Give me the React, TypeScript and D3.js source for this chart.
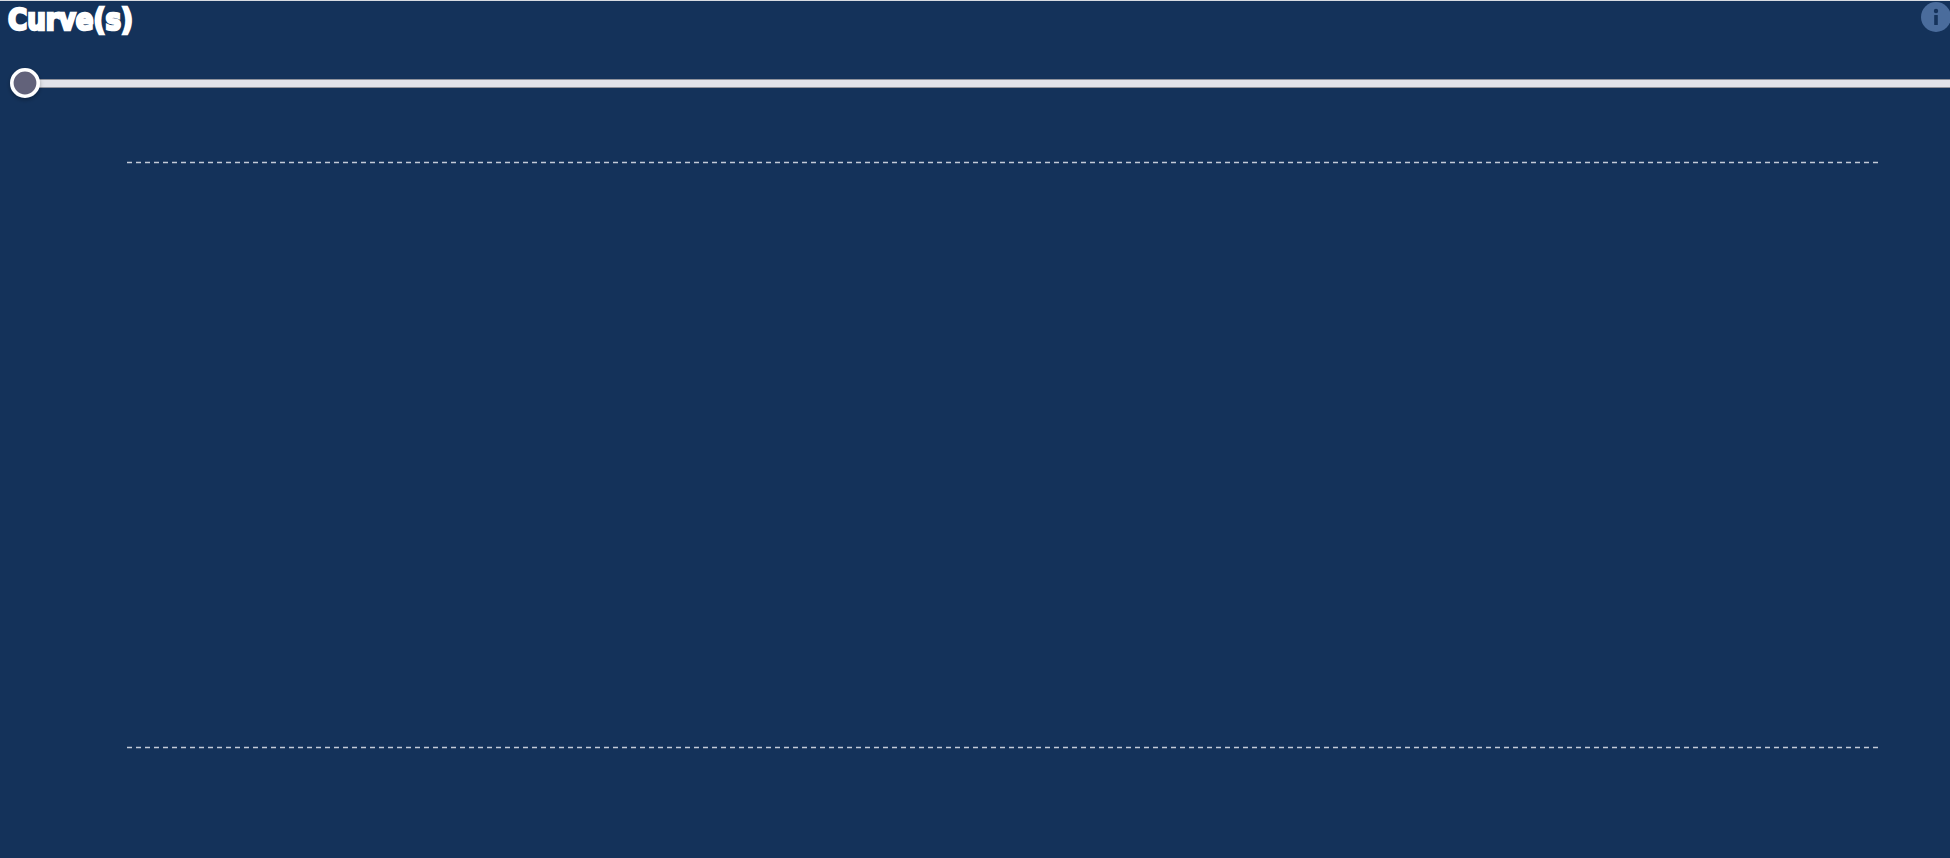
import * as d3 from 'd3';

const title = 'Curve(s)';
const sliderDomain = [0, 100];
const sliderValue = 0;
const yDomain = [0, 1];
const refLines = [0, 1];

const width = 1950;
const height = 858;

export default function App() {
  const margin = { top: 162.5, right: 72, bottom: 110.5, left: 127 };
  const xScale = d3.scaleLinear().domain(yDomain).range([margin.left, width - margin.right]);
  const yScale = d3.scaleLinear().domain(yDomain).range([height - margin.bottom, margin.top]);
  const sliderScale = d3.scaleLinear().domain(sliderDomain).range([25, 1950]);
  const knobX = sliderScale(sliderValue);

  return (
    <svg
      width={width}
      height={height}
      style={{ position: 'absolute', left: 0, top: 0, display: 'block' }}
    >
      <defs>
        <filter id="knob-shadow" x="-50%" y="-50%" width="200%" height="200%">
          <feDropShadow dx={0} dy={2} stdDeviation={2} floodColor="#000" floodOpacity={0.3} />
        </filter>
      </defs>
      <rect width={width} height={height} fill="#14325a" />
      <rect width={width} height={1} fill="#d8dce2" />

      {/* Impact is not installed, so squeeze a bold condensed face instead */}
      <text
        transform="translate(8,29.5) scale(0.97,1.03)"
        fontFamily="'DejaVu Sans Condensed', 'DejaVu Sans', sans-serif"
        fontStretch="condensed"
        fontWeight={700}
        fontSize={30}
        fill="#fff"
        stroke="#fff"
        strokeWidth={2.4}
      >
        {title}
      </text>

      <circle cx={1936} cy={17} r={15} fill="#4a6c9c" />
      <g fill="#15335b">
        <circle cx={1936} cy={11} r={2.2} />
        <rect x={1934.2} y={15} width={3.6} height={10} rx={0.5} />
      </g>

      {/* slider */}
      <rect x={knobX} y={79} width={width - knobX} height={9} fill="#8f929c" />
      <rect x={knobX} y={80} width={width - knobX} height={7} fill="#e2e3ea" />
      <circle
        cx={knobX}
        cy={83}
        r={13.2}
        fill="#62627a"
        stroke="#fff"
        strokeWidth={3.6}
        filter="url(#knob-shadow)"
      />

      {/* reference lines */}
      {refLines.map((d) => (
        <line
          key={d}
          x1={xScale.range()[0]}
          x2={xScale.range()[1]}
          y1={yScale(d)}
          y2={yScale(d)}
          stroke="#c3cbd8"
          strokeWidth={1.5}
          strokeDasharray="5 4"
        />
      ))}
    </svg>
  );
}
